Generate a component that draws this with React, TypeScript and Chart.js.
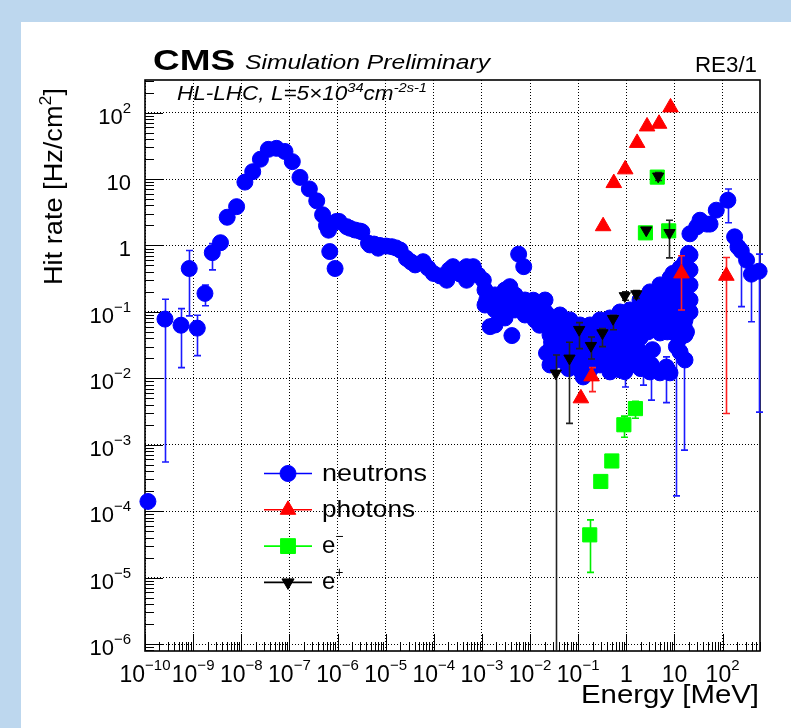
import React, { useEffect, useRef } from "react";
import { Chart, registerables } from "chart.js";

Chart.register(...registerables);

const FONT = '"Liberation Sans", Arial, Helvetica, sans-serif';

// ---------------- axis ticks ----------------
const xTickValues = [1e-10, 1e-9, 1e-8, 1e-7, 1e-6, 1e-5, 1e-4, 1e-3, 1e-2, 1e-1, 1, 10, 100];
const xTickBase = ["10", "10", "10", "10", "10", "10", "10", "10", "10", "10", "1", "10", "10"];
const xTickExp = ["\u221210", "\u22129", "\u22128", "\u22127", "\u22126", "\u22125", "\u22124", "\u22123", "\u22122", "\u22121", "", "", "2"];
const yTickValues = [1e-6, 1e-5, 1e-4, 1e-3, 1e-2, 1e-1, 1, 10, 100];
const yTickBase = ["10", "10", "10", "10", "10", "10", "1", "10", "10"];
const yTickExp = ["\u22126", "\u22125", "\u22124", "\u22123", "\u22122", "\u22121", "", "", "2"];

// ---------------- neutrons ----------------
const neutronEnergy = [
  1.15e-10, 3.7e-9, 5.1e-9, 8.0e-9, 1.19e-8, 1.73e-8, 2.5e-8, 3.65e-8, 5.4e-8, 8.1e-8,
  1.15e-7, 1.66e-7, 2.6e-7, 3.7e-7, 4.9e-7, 5.9e-7, 6.5e-7, 6.9e-7, 8.9e-7, 9.5e-7,
  1.08e-6, 1.55e-6, 1.8e-6, 2.9e-6, 3.2e-6, 4.4e-6, 4.7e-6, 7.0e-6, 7.6e-6, 1.33e-5,
  2.0e-5, 2.7e-5, 4.1e-5, 6.0e-5, 9.8e-5, 1.86e-4, 2.1e-4, 2.5e-4, 4.8e-4, 4.8e-4,
  6.6e-4, 1.07e-3, 1.26e-3, 1.48e-3, 1.48e-3, 1.8e-3, 2.3e-3, 2.5e-3, 3.2e-3, 3.8e-3,
  4.2e-3, 4.5e-3, 5.8e-3, 6.3e-3, 7.4e-3, 8.9e-3, 0.0117, 0.0126, 0.0158, 0.0178,
  0.022, 0.025, 0.028, 0.03, 0.032, 0.035, 0.04, 0.042, 0.049, 0.057,
  0.063, 0.071, 0.079, 0.108, 0.127, 0.14, 0.16, 0.18, 0.24, 0.25,
  0.28, 0.33, 0.4, 0.45, 0.45, 0.63, 0.63, 0.79, 0.89, 1.0,
  1.26, 1.38, 1.6, 1.6, 1.8, 1.9, 2.0, 2.5, 2.8, 3.1,
  3.2, 3.5, 4.0, 4.5, 5.0, 5.6, 7.1, 7.9, 8.9, 9.3,
  10, 10, 11.2, 12.6, 14, 15, 16, 17.8, 17.8, 19.5,
  21, 29, 34, 47, 55, 74, 178, 209, 316,
  2.31e-6, 5.73e-6, 1.02e-5, 1.64e-5, 3.37e-5, 7.59e-5, 1.35e-4, 3.51e-4, 8.3e-4,
];
const neutronRate = [
  1.4e-4, 1.1, 2.66, 3.84, 9.0, 12.9, 19.9, 28, 29, 26,
  18.3, 10.6, 7.1, 4.7, 2.9, 2.0, 1.7, 0.81, 0.45, 2.3,
  2.3, 1.92, 1.82, 1.65, 1.61, 1.08, 1.02, 0.91, 1.0, 0.96,
  0.855, 0.64, 0.51, 0.57, 0.38, 0.3, 0.43, 0.48, 0.3, 0.48,
  0.48, 0.3, 0.15, 0.06, 0.14, 0.14, 0.15, 0.1, 0.18, 0.24,
  0.044, 0.11, 0.74, 0.14, 0.48, 0.11, 0.15, 0.089, 0.063, 0.11,
  0.095, 0.071, 0.035, 0.043, 0.08, 0.056, 0.028, 0.076, 0.019, 0.034,
  0.014, 0.035, 0.02, 0.03, 0.0105, 0.02, 0.04, 0.014, 0.019, 0.05,
  0.025, 0.03, 0.063, 0.0148, 0.028, 0.038, 0.018, 0.071, 0.035, 0.024,
  0.016, 0.06, 0.1, 0.025, 0.045, 0.095, 0.014, 0.14, 0.05, 0.12,
  0.016, 0.027, 0.071, 0.18, 0.19, 0.1, 0.05, 0.24, 0.14, 0.38,
  0.079, 0.32, 0.045, 0.25, 0.126, 0.076, 0.45, 0.05, 0.15, 0.76,
  1.5, 1.9, 2.4, 2.1, 2.1, 3.4, 1.35, 0.95, 0.6,
  1.71, 1.05, 0.98, 0.92, 0.565, 0.459, 0.348, 0.372, 0.36,
];
// dense cloud of neutron points between 1 keV and 20 MeV
const neutronCloudEnergy = [
  1.16e-3, 1.16e-3, 1.87e-3, 1.87e-3, 1.87e-3, 3.02e-3, 3.02e-3, 3.02e-3, 4.88e-3, 4.88e-3,
  7.85e-3, 7.85e-3, 0.0127, 0.0127, 0.0205, 0.0205,
  0.026, 0.026, 0.026, 0.026, 0.0419, 0.0419, 0.0419, 0.0419,
  0.0676, 0.0676, 0.0676, 0.0676, 0.109, 0.109, 0.109, 0.109,
  0.176, 0.176, 0.176, 0.176, 0.284, 0.284, 0.284, 0.284,
  0.458, 0.458, 0.458, 0.458, 0.458, 0.74, 0.74, 0.74, 0.74, 0.74,
  1.19, 1.19, 1.19, 1.19, 1.19, 1.93, 1.93, 1.93, 1.93, 1.93, 1.93,
  3.1, 3.1, 3.1, 3.1, 3.1, 5.01, 5.01, 5.01, 5.01, 5.01, 5.01,
  8.09, 8.09, 8.09, 8.09, 8.09, 8.09, 13.1, 13.1, 13.1, 13.1, 13.1, 13.1, 13.1,
  21.1, 21.1, 21.1, 21.1, 21.1,
  0.033, 0.033, 0.033, 0.0859, 0.0859, 0.0859, 0.224, 0.224, 0.224,
  0.582, 0.582, 0.582, 0.582, 1.52, 1.52, 1.52, 1.52, 2.45, 2.45, 2.45,
  6.37, 6.37, 6.37, 6.37, 10.3, 10.3, 10.3, 10.3,
  16.6, 16.6, 16.6, 16.6, 16.6, 16.6, 16.6,
];
const neutronCloudRate = [
  0.214, 0.127, 0.18, 0.107, 0.0635, 0.214, 0.127, 0.0811, 0.18, 0.107,
  0.151, 0.0899, 0.127, 0.0757, 0.151, 0.0998,
  0.0757, 0.045, 0.0267, 0.0159, 0.0899, 0.0535, 0.0318, 0.0189,
  0.0757, 0.045, 0.0267, 0.0159, 0.0635, 0.0378, 0.0225, 0.0134,
  0.0635, 0.0378, 0.0225, 0.0134, 0.0757, 0.045, 0.0267, 0.0159,
  0.0811, 0.0499, 0.0307, 0.0189, 0.0125, 0.0998, 0.0635, 0.0378, 0.0225, 0.0134,
  0.107, 0.0705, 0.0435, 0.0267, 0.0159, 0.151, 0.0998, 0.0635, 0.0406, 0.0249, 0.0143,
  0.2, 0.127, 0.0811, 0.0535, 0.0125, 0.255, 0.162, 0.107, 0.0705, 0.0482, 0.0121,
  0.324, 0.214, 0.141, 0.0931, 0.0614, 0.0121, 0.459, 0.282, 0.174, 0.107, 0.0658, 0.0406, 0.0249,
  0.721, 0.428, 0.255, 0.151, 0.0998,
  0.0593, 0.0353, 0.021, 0.0593, 0.0353, 0.021, 0.0499, 0.0296, 0.0177,
  0.0635, 0.0392, 0.0241, 0.0153, 0.0869, 0.0535, 0.033, 0.0203, 0.123, 0.0757, 0.0177,
  0.2, 0.127, 0.0811, 0.0535, 0.255, 0.151, 0.0899, 0.0535,
  0.562, 0.324, 0.2, 0.123, 0.0757, 0.045, 0.0189,
];
// neutron points that carry visible error bars
const neutronBarEnergy = [2.6e-10, 5.6e-10, 8.3e-10, 1.22e-9, 1.76e-9, 2.5e-9, 0.022, 0.93, 2.24, 3.3, 6.8, 11, 15.8, 129, 245, 398, 575];
const neutronBarRate = [0.078, 0.063, 0.45, 0.057, 0.19, 0.78, 0.024, 0.0126, 0.019, 0.016, 0.0148, 0.03, 0.063, 4.8, 0.83, 0.37, 0.41];
const neutronBarLow = [5.5e-4, 0.0145, 0.087, 0.022, 0.124, 0.43, 0.0148, 0.0074, 0.0079, 0.0047, 0.0043, 1.7e-4, 8.3e-4, 2.2, 0.12, 0.071, 3.1e-3];
const neutronBarHigh = [0.155, 0.112, 0.84, 0.089, 0.254, 1.07, 0.035, 0.017, 0.026, 0.022, 0.021, 0.04, 0.08, 7.1, 1.0, 0.5, 0.74];

// ---------------- photons ----------------
const photonEnergy = [0.114, 0.19, 0.33, 0.55, 0.95, 1.68, 2.7, 4.8, 8.3, 14, 120];
const photonRate = [0.005, 0.0107, 1.95, 8.7, 14, 35, 62, 68, 120, 0.38, 0.35];
const photonLow = [null, 0.0063, null, null, null, null, null, null, null, 0.107, 2.95e-3];
const photonHigh = [null, 0.0145, null, null, null, null, null, null, null, 0.7, 0.66];

// ---------------- electrons (e-) ----------------
const electronEnergy = [0.174, 0.295, 0.5, 0.89, 1.55, 2.5, 4.4, 7.6];
const electronRate = [4.4e-5, 2.8e-4, 5.7e-4, 2.0e-3, 3.5e-3, 1.55, 10.7, 1.66];
const electronLow = [1.2e-5, null, null, 1.3e-3, 2.5e-3, null, null, null];
const electronHigh = [7.4e-5, null, null, 2.7e-3, 4.5e-3, null, null, null];

// ---------------- positrons (e+) ----------------
const positronEnergy = [0.0343, 0.066, 0.105, 0.184, 0.32, 0.53, 0.93, 1.62, 2.6, 4.6, 7.9];
const positronRate = [0.0119, 0.02, 0.054, 0.031, 0.048, 0.079, 0.174, 0.186, 1.7, 11, 1.55];
const positronLow = [1e-8, 2.1e-3, 0.028, 0.0195, 0.03, 0.054, 0.15, 0.16, null, 9.5, 0.65];
const positronHigh = [0.0224, 0.035, 0.069, 0.042, 0.056, 0.089, 0.2, 0.21, null, 12.5, 2.4];

const legendLabels = ["neutrons", "photons", "e", "e"];
const legendSup = ["", "", "\u2212", "+"];

// ---------------- helpers ----------------
type Seg = { t: string; sup?: boolean };
interface TOpts {
  size: number;
  supSize?: number;
  raise?: number;
  style?: string;
  weight?: string;
  align?: "left" | "center" | "right";
  width?: number;
  color?: string;
}
function fontStr(o: TOpts, sup: boolean) {
  return `${o.style || "normal"} ${o.weight || "normal"} ${sup ? o.supSize || o.size : o.size}px ${FONT}`;
}
function drawSegs(ctx: CanvasRenderingContext2D, segs: Seg[], x: number, y: number, o: TOpts) {
  ctx.save();
  let total = 0;
  const ws = segs.map((s) => {
    ctx.font = fontStr(o, !!s.sup);
    const w = ctx.measureText(s.t).width;
    total += w;
    return w;
  });
  const sx = o.width ? o.width / total : 1;
  const w = total * sx;
  const start = o.align === "center" ? x - w / 2 : o.align === "right" ? x - w : x;
  ctx.translate(start, y);
  ctx.scale(sx, 1);
  ctx.fillStyle = o.color || "#000";
  ctx.textAlign = "left";
  ctx.textBaseline = "alphabetic";
  let cx = 0;
  segs.forEach((s, i) => {
    ctx.font = fontStr(o, !!s.sup);
    ctx.fillText(s.t, cx, s.sup ? -(o.raise || 0) : 0);
    cx += ws[i];
  });
  ctx.restore();
}

function marker(ctx: CanvasRenderingContext2D, kind: string, x: number, y: number, r: number, color: string) {
  ctx.save();
  ctx.fillStyle = color;
  ctx.strokeStyle = color;
  ctx.lineWidth = 1;
  ctx.beginPath();
  const k = Math.sin((2 * Math.PI) / 3);
  if (kind === "circle") {
    ctx.arc(x, y, r, 0, Math.PI * 2);
  } else if (kind === "rect") {
    const s = Math.SQRT1_2 * r;
    ctx.rect(x - s, y - s, 2 * s, 2 * s);
  } else if (kind === "tri") {
    ctx.moveTo(x, y - r);
    ctx.lineTo(x + r * k, y + r / 2);
    ctx.lineTo(x - r * k, y + r / 2);
    ctx.closePath();
  } else if (kind === "tridown") {
    ctx.moveTo(x, y + r);
    ctx.lineTo(x + r * k, y - r / 2);
    ctx.lineTo(x - r * k, y - r / 2);
    ctx.closePath();
  }
  ctx.fill();
  ctx.stroke();
  ctx.restore();
}

const pts = (xs: number[], ys: number[]) => xs.map((x, i) => ({ x, y: ys[i] }));

const rootPlugin = {
  id: "rootStyle",
  beforeDraw(chart: any) {
    const ctx: CanvasRenderingContext2D = chart.ctx;
    ctx.save();
    ctx.fillStyle = "#bdd7ee";
    ctx.fillRect(0, 0, chart.width, chart.height);
    ctx.fillStyle = "#ffffff";
    ctx.fillRect(21, 22, chart.width - 21, chart.height - 22);
    ctx.restore();
  },
  beforeDatasetsDraw(chart: any) {
    const ctx: CanvasRenderingContext2D = chart.ctx;
    const { left, right, top, bottom } = chart.chartArea;
    const xs = chart.scales.x;
    const ys = chart.scales.y;
    ctx.save();
    ctx.strokeStyle = "#000";
    ctx.lineWidth = 1;
    for (let e = -10; e <= 2; e++) {
      for (let m = 1; m <= 9; m++) {
        const v = m * Math.pow(10, e);
        if (v > xs.max) continue;
        const px = Math.round(xs.getPixelForValue(v)) + 0.5;
        const len = m === 1 ? 17 : 9;
        ctx.beginPath();
        ctx.moveTo(px, bottom);
        ctx.lineTo(px, bottom - len);
        ctx.stroke();
      }
    }
    for (let e = -7; e <= 2; e++) {
      for (let m = 1; m <= 9; m++) {
        const v = m * Math.pow(10, e);
        if (v < ys.min || v > ys.max) continue;
        const py = Math.round(ys.getPixelForValue(v)) + 0.5;
        const len = m === 1 ? 18 : 9;
        ctx.beginPath();
        ctx.moveTo(left, py);
        ctx.lineTo(left + len, py);
        ctx.stroke();
      }
    }
    ctx.lineWidth = 1.6;
    ctx.strokeRect(left, top, right - left, bottom - top);
    ctx.restore();

    xTickValues.forEach((v, i) => {
      const px = xs.getPixelForValue(v);
      const segs: Seg[] = [{ t: xTickBase[i] }];
      if (xTickExp[i]) segs.push({ t: xTickExp[i], sup: true });
      drawSegs(ctx, segs, px, bottom + 31, { size: 23, supSize: 15, raise: 12, align: "center" });
    });
    yTickValues.forEach((v, i) => {
      const py = ys.getPixelForValue(v);
      const segs: Seg[] = [{ t: yTickBase[i] }];
      if (yTickExp[i]) segs.push({ t: yTickExp[i], sup: true });
      drawSegs(ctx, segs, left - 14, py + 11, { size: 22, supSize: 15, raise: 11, align: "right" });
    });

    drawSegs(ctx, [{ t: "Energy [MeV]" }], right - 1, bottom + 52, { size: 26, align: "right", width: 178 });
    ctx.save();
    ctx.translate(62, top + 8);
    ctx.rotate(-Math.PI / 2);
    drawSegs(ctx, [{ t: "Hit rate [Hz/cm" }, { t: "2", sup: true }, { t: "]" }], 0, 0, {
      size: 26,
      supSize: 17,
      raise: 11,
      align: "right",
      width: 197,
    });
    ctx.restore();
  },
  beforeDatasetDraw(chart: any, args: any) {
    const ds = chart.data.datasets[args.index];
    if (!ds.errLow) return;
    const ctx: CanvasRenderingContext2D = chart.ctx;
    const xs = chart.scales.x;
    const ys = chart.scales.y;
    const { top, bottom } = chart.chartArea;
    ctx.save();
    ctx.strokeStyle = ds.errColor;
    ctx.lineWidth = 1.6;
    ds.data.forEach((p: any, i: number) => {
      const lo = ds.errLow[i];
      const hi = ds.errHigh[i];
      if (lo == null || hi == null) return;
      const px = Math.round(xs.getPixelForValue(p.x)) + 0.5;
      let y1 = ys.getPixelForValue(hi);
      let y2 = ys.getPixelForValue(lo);
      const clipLo = y2 > bottom;
      y2 = Math.min(y2, bottom);
      y1 = Math.max(y1, top);
      ctx.beginPath();
      ctx.moveTo(px, y1);
      ctx.lineTo(px, y2);
      ctx.moveTo(px - 3.5, y1);
      ctx.lineTo(px + 3.5, y1);
      if (!clipLo) {
        ctx.moveTo(px - 3.5, y2);
        ctx.lineTo(px + 3.5, y2);
      }
      ctx.stroke();
    });
    ctx.restore();
  },
  afterDatasetsDraw(chart: any) {
    const ctx: CanvasRenderingContext2D = chart.ctx;
    const { left } = chart.chartArea;
    const rows = [
      { color: "#0000ff", kind: "circle", r: 8 },
      { color: "#ff0000", kind: "tri", r: 9 },
      { color: "#00ff00", kind: "rect", r: 10.5 },
      { color: "#000000", kind: "tridown", r: 7 },
    ];
    const y0 = 473.5;
    const dy = 36.3;
    rows.forEach((row, i) => {
      const y = y0 + i * dy;
      ctx.save();
      ctx.strokeStyle = row.color;
      ctx.lineWidth = 1.6;
      ctx.beginPath();
      ctx.moveTo(left + 119, y);
      ctx.lineTo(left + 167, y);
      ctx.stroke();
      ctx.restore();
      marker(ctx, row.kind, left + 143, y, row.r, row.color);
      const segs: Seg[] = [{ t: legendLabels[i] }];
      if (legendSup[i]) segs.push({ t: legendSup[i], sup: true });
      drawSegs(ctx, segs, left + 177, y + 7, {
        size: 24,
        supSize: 14,
        raise: 12,
        align: "left",
        width: i === 0 ? 105 : i === 1 ? 93 : undefined,
      });
    });
  },
  afterDraw(chart: any) {
    const ctx: CanvasRenderingContext2D = chart.ctx;
    const { left, right, top } = chart.chartArea;
    drawSegs(ctx, [{ t: "CMS" }], left + 8, top - 10.5, { size: 30, weight: "bold", align: "left", width: 82 });
    drawSegs(ctx, [{ t: "Simulation Preliminary" }], left + 100, top - 11, { size: 20, style: "italic", align: "left", width: 245 });
    drawSegs(ctx, [{ t: "RE3/1" }], right - 3, top - 8, { size: 22, align: "right", width: 62 });
    drawSegs(
      ctx,
      [{ t: "HL-LHC, L=5\u00d710" }, { t: "34", sup: true }, { t: "cm" }, { t: "-2s-1", sup: true }],
      left + 32,
      top + 20,
      { size: 20, supSize: 13, raise: 8, style: "italic", align: "left", width: 250 }
    );
  },
};

export default function App() {
  const ref = useRef<HTMLCanvasElement>(null);
  useEffect(() => {
    const canvas = ref.current;
    if (!canvas) return;
    const plain = neutronEnergy.concat(neutronCloudEnergy);
    const plainRate = neutronRate.concat(neutronCloudRate);
    const neutronData = pts(plain, plainRate).concat(pts(neutronBarEnergy, neutronBarRate));
    const none = plain.map(() => null as number | null);
    const neutronLow = none.concat(neutronBarLow);
    const neutronHigh = none.concat(neutronBarHigh);
    const chart = new Chart(canvas, {
      type: "scatter",
      data: {
        datasets: [
          {
            label: "neutrons",
            data: neutronData,
            pointStyle: "circle",
            pointRadius: 8,
            borderWidth: 1,
            backgroundColor: "#0000ff",
            borderColor: "#0000ff",
            order: 4,
            clip: false,
            errLow: neutronLow,
            errHigh: neutronHigh,
            errColor: "#1a1aff",
          } as any,
          {
            label: "photons",
            data: pts(photonEnergy, photonRate),
            pointStyle: "triangle",
            pointRadius: 9,
            borderWidth: 1,
            backgroundColor: "#ff0000",
            borderColor: "#ff0000",
            order: 3,
            clip: false,
            errLow: photonLow,
            errHigh: photonHigh,
            errColor: "#ff2020",
          } as any,
          {
            label: "e-",
            data: pts(electronEnergy, electronRate),
            pointStyle: "rect",
            pointRadius: 10,
            borderWidth: 1,
            backgroundColor: "#00ff00",
            borderColor: "#00ff00",
            order: 2,
            clip: false,
            errLow: electronLow,
            errHigh: electronHigh,
            errColor: "#00ee00",
          } as any,
          {
            label: "e+",
            data: pts(positronEnergy, positronRate),
            pointStyle: "triangle",
            pointRotation: 180,
            pointRadius: 6.5,
            borderWidth: 1,
            backgroundColor: "#000000",
            borderColor: "#000000",
            order: 1,
            clip: false,
            errLow: positronLow,
            errHigh: positronHigh,
            errColor: "#222222",
          } as any,
        ],
      },
      options: {
        responsive: false,
        animation: false,
        events: [],
        layout: { padding: { left: 145, right: 31, top: 80, bottom: 77 } },
        plugins: {
          legend: { display: false },
          tooltip: { enabled: false },
          title: { display: false },
        },
        scales: {
          x: {
            type: "logarithmic",
            position: "bottom",
            min: 1e-10,
            max: 600,
            afterBuildTicks: (s: any) => {
              s.ticks = xTickValues.map((v) => ({ value: v }));
            },
            afterFit: (s: any) => {
              s.height = 0;
            },
            ticks: { display: false },
            grid: { color: "#000", lineWidth: 1, drawTicks: false },
            border: { display: false, dash: [1, 2] },
          },
          y: {
            type: "logarithmic",
            position: "left",
            min: 7.85e-7,
            max: 310,
            afterBuildTicks: (s: any) => {
              s.ticks = yTickValues.map((v) => ({ value: v }));
            },
            afterFit: (s: any) => {
              s.width = 0;
            },
            ticks: { display: false },
            grid: { color: "#000", lineWidth: 1, drawTicks: false },
            border: { display: false, dash: [1, 2] },
          },
        } as any,
      },
      plugins: [rootPlugin],
    } as any);
    return () => chart.destroy();
  }, []);
  return (
    <div style={{ position: "absolute", left: 0, top: 0, width: 791, height: 728, overflow: "hidden" }}>
      <canvas ref={ref} width={791} height={728} style={{ display: "block", width: 791, height: 728 }} />
    </div>
  );
}
